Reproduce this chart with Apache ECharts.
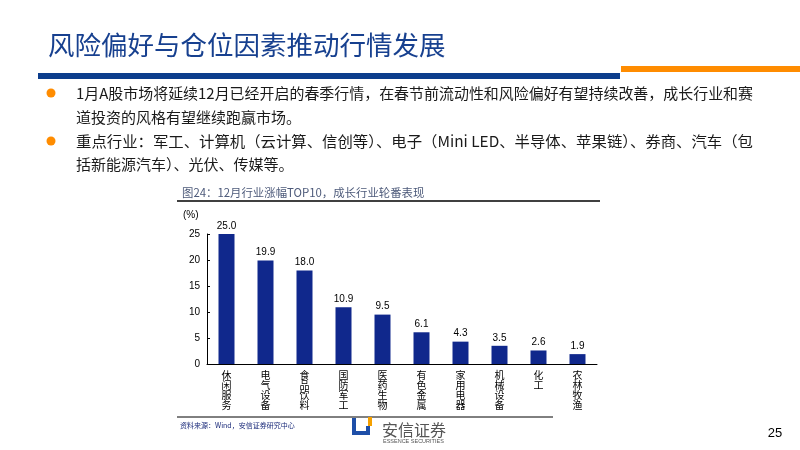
<!DOCTYPE html>
<html><head><meta charset="utf-8">
<script src="https://cdn.jsdelivr.net/npm/echarts@6/dist/echarts.min.js"></script>
<style>html,body{margin:0;padding:0;background:#fff}#c{width:800px;height:450px}</style>
</head><body><div id="c"></div>
<script>
const categories = ['休闲服务','电气设备','食品饮料','国防军工','医药生物','有色金属','家用电器','机械设备','化工','农林牧渔'];
const values = [25.0,19.9,18.0,10.9,9.5,6.1,4.3,3.5,2.6,1.9];
const yMin = 0, yMax = 25, yStep = 5;
const pageTitle = '风险偏好与仓位因素推动行情发展';
const bulletLines = [
  '1月A股市场将延续12月已经开启的春季行情，在春节前流动性和风险偏好有望持续改善，成长行业和赛',
  '道投资的风格有望继续跑赢市场。',
  '重点行业：军工、计算机（云计算、信创等）、电子（Mini LED、半导体、苹果链）、券商、汽车（包',
  '括新能源汽车）、光伏、传媒等。'
];
const chartTitle = '图24：12月行业涨幅TOP10，成长行业轮番表现';
const unitLabel = '(%)';
const sourceText = '资料来源：Wind，安信证券研究中心';
const pageNo = '25';

const CJK = '"Noto Sans CJK SC", "Liberation Sans", sans-serif';
const chart = echarts.init(document.getElementById('c'), null, {renderer:'canvas'});
const lineY = [93, 117, 141, 164];
const lineFull = [true, false, true, false]; // justified lines span to right margin
const textLeft = 76, textRight = 753;
const mctx = document.createElement('canvas').getContext('2d');
const bodyFont = '15px ' + CJK;
mctx.font = bodyFont;
const g = [];
g.push({type:'text', left:48, top:32, style:{text:pageTitle, font:'26.5px '+CJK, fill:'#17408f'}});
g.push({type:'rect', shape:{x:38, y:73, width:582, height:6}, style:{fill:'#0c3d8c'}});
g.push({type:'rect', shape:{x:621, y:66, width:179, height:6}, style:{fill:'#ff8c00'}});
g.push({type:'circle', shape:{cx:51, cy:93, r:4.5}, style:{fill:'#ff8c00'}});
g.push({type:'circle', shape:{cx:51, cy:141, r:4.5}, style:{fill:'#ff8c00'}});
bulletLines.forEach((t,i)=>{
  let sx = 1;
  if (lineFull[i]) { const w = mctx.measureText(t).width; if (w > 0) sx = (textRight - textLeft) / w; }
  g.push({type:'text', x:textLeft, y:lineY[i], scaleX:sx, style:{text:t, font:bodyFont, fill:'#1a1a1a', verticalAlign:'middle'}});
});
g.push({type:'text', x:182, y:193, style:{text:chartTitle, font:'11.4px '+CJK, fill:'#4d5a7a', verticalAlign:'middle'}});
g.push({type:'line', shape:{x1:177, y1:201, x2:600, y2:201}, style:{stroke:'#000', lineWidth:1.4}});
g.push({type:'text', x:183, y:215, style:{text:unitLabel, font:'10px "Liberation Sans", Arial, sans-serif', fill:'#000', verticalAlign:'middle'}});
g.push({type:'line', shape:{x1:177, y1:417, x2:553, y2:417}, style:{stroke:'#000', lineWidth:1}});
g.push({type:'text', x:180, y:425, style:{text:sourceText, font:'7px '+CJK, fill:'#1a2a7a', verticalAlign:'middle'}});
// logo mark
g.push({type:'rect', shape:{x:352, y:418, width:4, height:17}, style:{fill:'#1e4fa8'}});
g.push({type:'rect', shape:{x:352, y:431, width:18, height:4}, style:{fill:'#1e4fa8'}});
g.push({type:'rect', shape:{x:366, y:426, width:4, height:9}, style:{fill:'#1e4fa8'}});
g.push({type:'rect', shape:{x:368, y:417, width:4, height:9}, style:{fill:'#f5a000'}});
g.push({type:'text', x:382, y:430, style:{text:'安信证券', font:'16px '+CJK, fill:'#555', verticalAlign:'middle'}});
g.push({type:'text', x:383, y:441.5, style:{text:'ESSENCE SECURITIES', font:'5.5px "Liberation Sans", Arial, sans-serif', fill:'#555', verticalAlign:'middle'}});
g.push({type:'text', x:775, y:433, style:{text:pageNo, font:'13px "Liberation Sans", Arial, sans-serif', fill:'#000', verticalAlign:'middle', align:'center'}});

chart.setOption({
  animation:false,
  backgroundColor:'#fff',
  grid:{left:207, right:203, top:234, bottom:86},
  xAxis:{type:'category', data:categories, boundaryGap:true,
    axisLine:{lineStyle:{color:'#000', width:1}},
    axisTick:{inside:true, length:3, lineStyle:{color:'#000'}},
    axisLabel:{interval:0, margin:6, fontFamily:CJK, fontSize:10, lineHeight:10, color:'#000',
      formatter:v=>v.split('').join('\n')}},
  yAxis:{type:'value', min:yMin, max:yMax, interval:yStep,
    axisLine:{show:true, lineStyle:{color:'#000', width:1}},
    axisTick:{show:true, inside:true, length:3, lineStyle:{color:'#000'}},
    splitLine:{show:false},
    axisLabel:{margin:7, fontFamily:'"Liberation Sans", Arial, sans-serif', fontSize:10, color:'#000'}},
  series:[{type:'bar', data:values, barWidth:16, itemStyle:{color:'#10288c'},
    label:{show:true, position:'top', distance:3, formatter:p=>p.value.toFixed(1),
      fontFamily:'"Liberation Sans", Arial, sans-serif', fontSize:10, color:'#000'}}],
  graphic:g
});
</script></body></html>
